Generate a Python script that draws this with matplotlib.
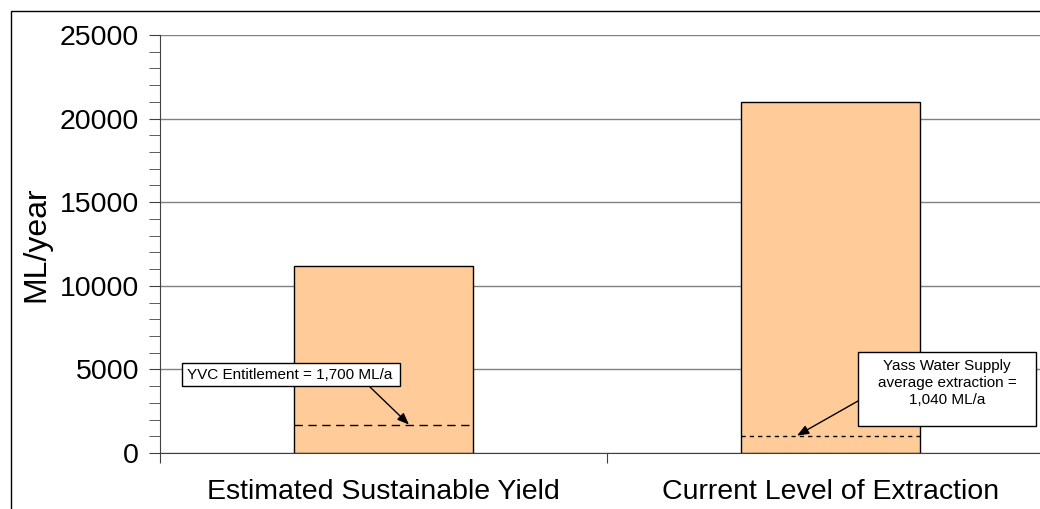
import matplotlib.pyplot as plt
from matplotlib.patches import Rectangle
from matplotlib.ticker import MultipleLocator

plt.rcParams['font.family'] = ['Liberation Sans', 'DejaVu Sans']

# bar data (ML/year)
categories = ['Estimated Sustainable Yield', 'Current Level of Extraction']
volumes = [11200, 21000]

# reference levels marked inside the bars
ref_values = [1700, 1040]
ref_labels = ['YVC Entitlement = 1,700 ML/a',
              'Yass Water Supply\naverage extraction =\n1,040 ML/a']

W, H = 1040, 509
fig = plt.figure(figsize=(W / 100, H / 100), dpi=100)


def fx(px):
    return px / W


def fy(py):
    return 1 - py / H


# outer chart border (runs off the right and bottom edge)
fig.patches.append(Rectangle((fx(11), -0.05), 1.1, fy(11) + 0.05,
                             transform=fig.transFigure, fill=False,
                             edgecolor='black', linewidth=1))

ax = fig.add_axes([fx(160), fy(453), 894 / W, 418 / H])

x = [0.5, 1.5]
ax.bar(x, volumes, width=0.4, color='#FFCC99', edgecolor='black', linewidth=1, zorder=2)

# dashed reference lines across each bar
ax.hlines(ref_values[0], x[0] - 0.2, x[0] + 0.2, colors='black',
          linestyles=(0, (6, 4)), linewidth=1, zorder=3)
ax.hlines(ref_values[1], x[1] - 0.2, x[1] + 0.2, colors='black',
          linestyles=(0, (3, 3)), linewidth=1, zorder=3)

ax.set_xlim(0, 2)
ax.set_ylim(0, 25000)
ax.yaxis.set_major_locator(MultipleLocator(5000))
ax.yaxis.set_minor_locator(MultipleLocator(1000))
ax.set_xticks([0, 1, 2])
ax.set_xticklabels([])
ax.set_xticks(x, minor=True)
ax.set_xticklabels(categories, minor=True, fontsize=20.5)
ax.tick_params(axis='x', which='minor', length=0, pad=19)
ax.tick_params(axis='x', which='major', length=7, direction='out', color='#404040')
ax.tick_params(axis='y', which='both', length=8, direction='out', color='#404040',
               labelsize=20.5, pad=7)

ax.grid(axis='y', which='major', color='#808080', linewidth=1)
ax.set_axisbelow(True)
for s in ['top', 'right']:
    ax.spines[s].set_visible(False)
for s in ['left', 'bottom']:
    ax.spines[s].set_color('#404040')

ax.set_ylabel('ML/year', fontsize=23, labelpad=6)

# callout boxes
fig.patches.append(Rectangle((fx(182), fy(386)), fx(400) - fx(182), fy(363) - fy(386),
                             transform=fig.transFigure, facecolor='white',
                             edgecolor='black', linewidth=1, zorder=5))
fig.text(fx(187), fy(375), ref_labels[0], fontsize=11, ha='left', va='center', zorder=6)

fig.patches.append(Rectangle((fx(858), fy(426)), fx(1036) - fx(858), fy(352) - fy(426),
                             transform=fig.transFigure, facecolor='white',
                             edgecolor='black', linewidth=1, zorder=5))
fig.text(fx(947), fy(383), ref_labels[1], fontsize=11, ha='center', va='center',
         multialignment='center', linespacing=1.25, zorder=6)

# arrows pointing at the reference lines
arrow = dict(arrowstyle='-|>,head_length=0.7,head_width=0.28', color='black',
             linewidth=1, shrinkA=0, shrinkB=0)
ax.annotate('', xy=(0.557, ref_values[0]), xycoords='data',
            xytext=(fx(370), fy(387)), textcoords='figure fraction',
            arrowprops=arrow, zorder=5)
ax.annotate('', xy=(1.425, ref_values[1]), xycoords='data',
            xytext=(fx(858), fy(401)), textcoords='figure fraction',
            arrowprops=arrow, zorder=4)

fig.savefig('out.png', dpi=100)
